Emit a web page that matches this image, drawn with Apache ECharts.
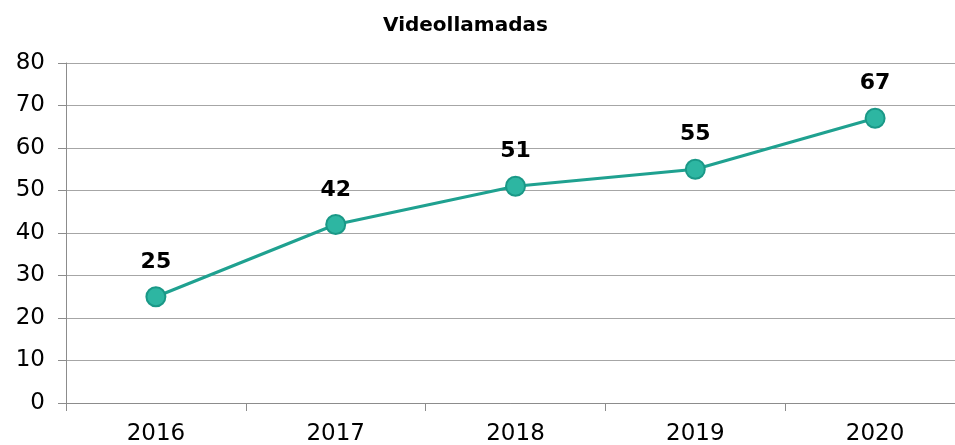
<!DOCTYPE html>
<html>
<head>
<meta charset="utf-8">
<script src="https://cdn.jsdelivr.net/npm/echarts@6/dist/echarts.min.js"></script>
<style>
  html, body { margin: 0; padding: 0; background: #fff; }
  #main { width: 955px; height: 445px; }
</style>
</head>
<body>
<div id="main"></div>
<script>
// datos
var years = ['2016', '2017', '2018', '2019', '2020'];
var videollamadas = [25, 42, 51, 55, 67];

var myChart = echarts.init(document.getElementById('main'));

var option = {
    animation: false,
    title: {
        text: 'Videollamadas',
        left: 378,
        top: 11,
        textStyle: {
            fontFamily: 'DejaVu Sans, sans-serif',
            fontSize: 20,
            fontWeight: 'bold',
            color: '#000'
        }
    },
    grid: {
        left: 66,
        top: 63,
        width: 899,
        height: 340,
        outerBoundsMode: 'none'
    },
    xAxis: {
        type: 'category',
        boundaryGap: true,
        data: years,
        axisLine: { lineStyle: { color: '#8c8c8c', width: 1 } },
        axisTick: { show: true, length: 8, lineStyle: { color: '#8c8c8c' } },
        axisLabel: {
            margin: 20,
            fontFamily: 'DejaVu Sans, sans-serif',
            fontSize: 23,
            color: '#000'
        }
    },
    yAxis: {
        type: 'value',
        min: 0,
        max: 80,
        interval: 10,
        axisLine: { show: true, lineStyle: { color: '#8c8c8c', width: 1 } },
        axisTick: { show: true, length: 8, lineStyle: { color: '#8c8c8c' } },
        splitLine: { lineStyle: { color: '#a6a6a6', width: 1 } },
        axisLabel: {
            margin: 21,
            fontFamily: 'DejaVu Sans, sans-serif',
            fontSize: 23,
            color: '#000'
        }
    },
    series: [{
        name: 'Videollamadas',
        type: 'line',
        data: videollamadas,
        symbol: 'circle',
        symbolSize: 19,
        lineStyle: { color: '#1fa190', width: 3 },
        itemStyle: { color: '#2db6a2', borderColor: '#1a9887', borderWidth: 2 },
        label: {
            show: true,
            position: 'top',
            distance: 13,
            fontFamily: 'DejaVu Sans, sans-serif',
            fontSize: 22,
            fontWeight: 'bold',
            color: '#000'
        }
    }]
};

myChart.setOption(option);
</script>
</body>
</html>
